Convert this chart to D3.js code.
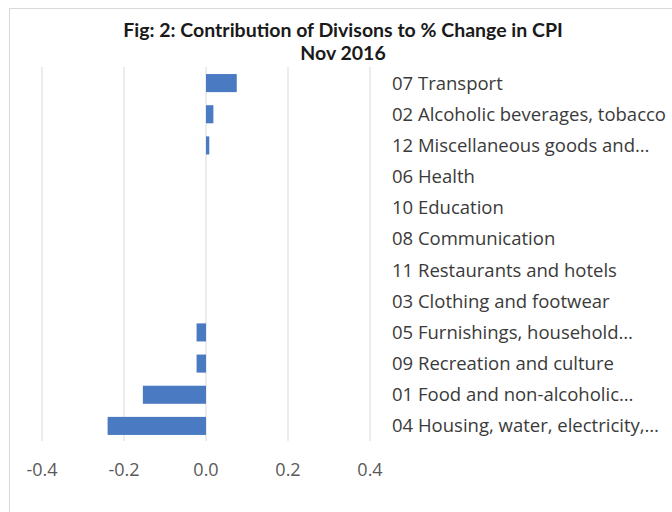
<!DOCTYPE html>
<html><head><meta charset="utf-8">
<script src="https://cdn.jsdelivr.net/npm/d3@7"></script>
<style>body{margin:0;background:#fff}svg{display:block}</style>
</head><body>
<script>
const categories = ["07 Transport","02 Alcoholic beverages, tobacco","12 Miscellaneous goods and…","06 Health","10 Education","08 Communication","11 Restaurants and hotels","03 Clothing and footwear","05 Furnishings, household…","09 Recreation and culture","01 Food and non-alcoholic…","04 Housing, water, electricity,…"];
const values = [0.075, 0.018, 0.008, 0, 0, 0, 0, 0, -0.023, -0.023, -0.154, -0.24];
const ticks = [-0.4, -0.2, 0.0, 0.2, 0.4];
const title = ["Fig: 2: Contribution of Divisons to % Change in CPI", "Nov 2016"];

(function () {
const W = 672, H = 512;
const svg = d3.select("body").append("svg").attr("width", W).attr("height", H);
const labelFont = "'Open Sans', sans-serif";
const titleFont = "Lato, 'Open Sans', sans-serif";

svg.append("rect").attr("x", 9.5).attr("y", 8.5).attr("width", 680).attr("height", 520)
  .attr("fill", "#fff").attr("stroke", "#d9d9d9");

const x = d3.scaleLinear().domain([-0.4, 0.4]).range([42, 370]);
const y = d3.scaleBand().domain(categories).range([67.5, 441.5]).paddingInner(0.42).paddingOuter(0.21);
const plotTop = 67, plotBottom = 441;

svg.append("g").selectAll("line").data(ticks).join("line")
  .attr("x1", d => x(d)).attr("x2", d => x(d)).attr("y1", plotTop).attr("y2", plotBottom)
  .attr("stroke", "#d9d9d9").attr("stroke-width", 1);

svg.append("g").selectAll("rect").data(values).join("rect")
  .attr("x", d => x(Math.min(0, d)))
  .attr("width", d => Math.abs(x(d) - x(0)))
  .attr("y", (d, i) => y(categories[i]))
  .attr("height", y.bandwidth())
  .attr("fill", "#4a7bc2");

svg.append("g").selectAll("text").data(categories).join("text")
  .attr("x", 392).attr("y", d => y(d) + y.bandwidth() / 2)
  .attr("dy", "0.35em").attr("font-family", labelFont).attr("font-size", 18.5)
  .attr("fill", "#3a3a3a").text(d => d);

svg.append("g").selectAll("text").data(ticks).join("text")
  .attr("x", d => x(d)).attr("y", 470).attr("dy", "0.35em")
  .attr("text-anchor", "middle").attr("font-family", labelFont).attr("font-size", 18)
  .attr("fill", "#595959").text(d => d3.format(".1f")(d).replace("−", "-"));

svg.append("g").selectAll("text").data(title).join("text")
  .attr("x", 343).attr("y", (d, i) => 30 + i * 23).attr("dy", "0.35em")
  .attr("text-anchor", "middle").attr("font-family", titleFont).attr("font-size", 19.5)
  .attr("font-weight", "bold").attr("fill", "#1a1a1a").text(d => d);
})();
</script>
</body></html>
